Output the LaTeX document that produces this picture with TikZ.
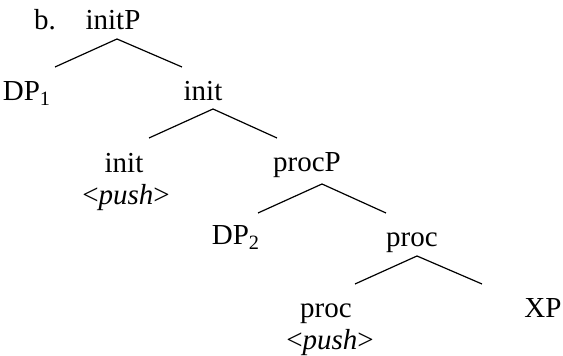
\documentclass[tikz,border=0pt]{standalone}
\usepackage{fontspec}
\setmainfont{Liberation Serif}
\usetikzlibrary{positioning}

\begin{document}
\begin{tikzpicture}[
    x=0.5pt,
    y=-0.5pt,
    word/.style={anchor=base, inner sep=0pt, font=\fontsize{14.5}{17}\selectfont},
    branch/.style={line width=0.6pt},
]
    \useasboundingbox (0,0) rectangle (563,356);

    \node[word] (ex)     at (45, 30)   {b.};
    \node[word] (initP)  at (113, 30)  {initP};
    \node[word] (DP1)    at (27, 101)  {DP\textsubscript{1}};
    \node[word] (initB)  at (203, 101) {init};
    \node[word] (init)   at (124, 173) {init};
    \node[word] (pushA)  at (126, 205) {\textless\textit{push}\textgreater};
    \node[word] (procP)  at (307, 172) {procP};
    \node[word] (DP2)    at (236, 245) {DP\textsubscript{2}};
    \node[word] (procB)  at (412, 247) {proc};
    \node[word] (proc)   at (326, 318) {proc};
    \node[word] (pushB)  at (330, 350) {\textless\textit{push}\textgreater};
    \node[word] (XP)     at (543, 318) {XP};

    % branches
    \coordinate (a1) at (117, 39);
    \coordinate (l1) at (55, 67);
    \coordinate (r1) at (182, 67);
    \coordinate (a2) at (213, 109);
    \coordinate (l2) at (149, 138);
    \coordinate (r2) at (277, 138);
    \coordinate (a3) at (322, 184);
    \coordinate (l3) at (258, 213);
    \coordinate (r3) at (386, 213);
    \coordinate (a4) at (417, 256);
    \coordinate (l4) at (355, 284);
    \coordinate (r4) at (482, 284);

    \draw[branch] (l1) -- (a1) -- (r1);
    \draw[branch] (l2) -- (a2) -- (r2);
    \draw[branch] (l3) -- (a3) -- (r3);
    \draw[branch] (l4) -- (a4) -- (r4);
\end{tikzpicture}
\end{document}
